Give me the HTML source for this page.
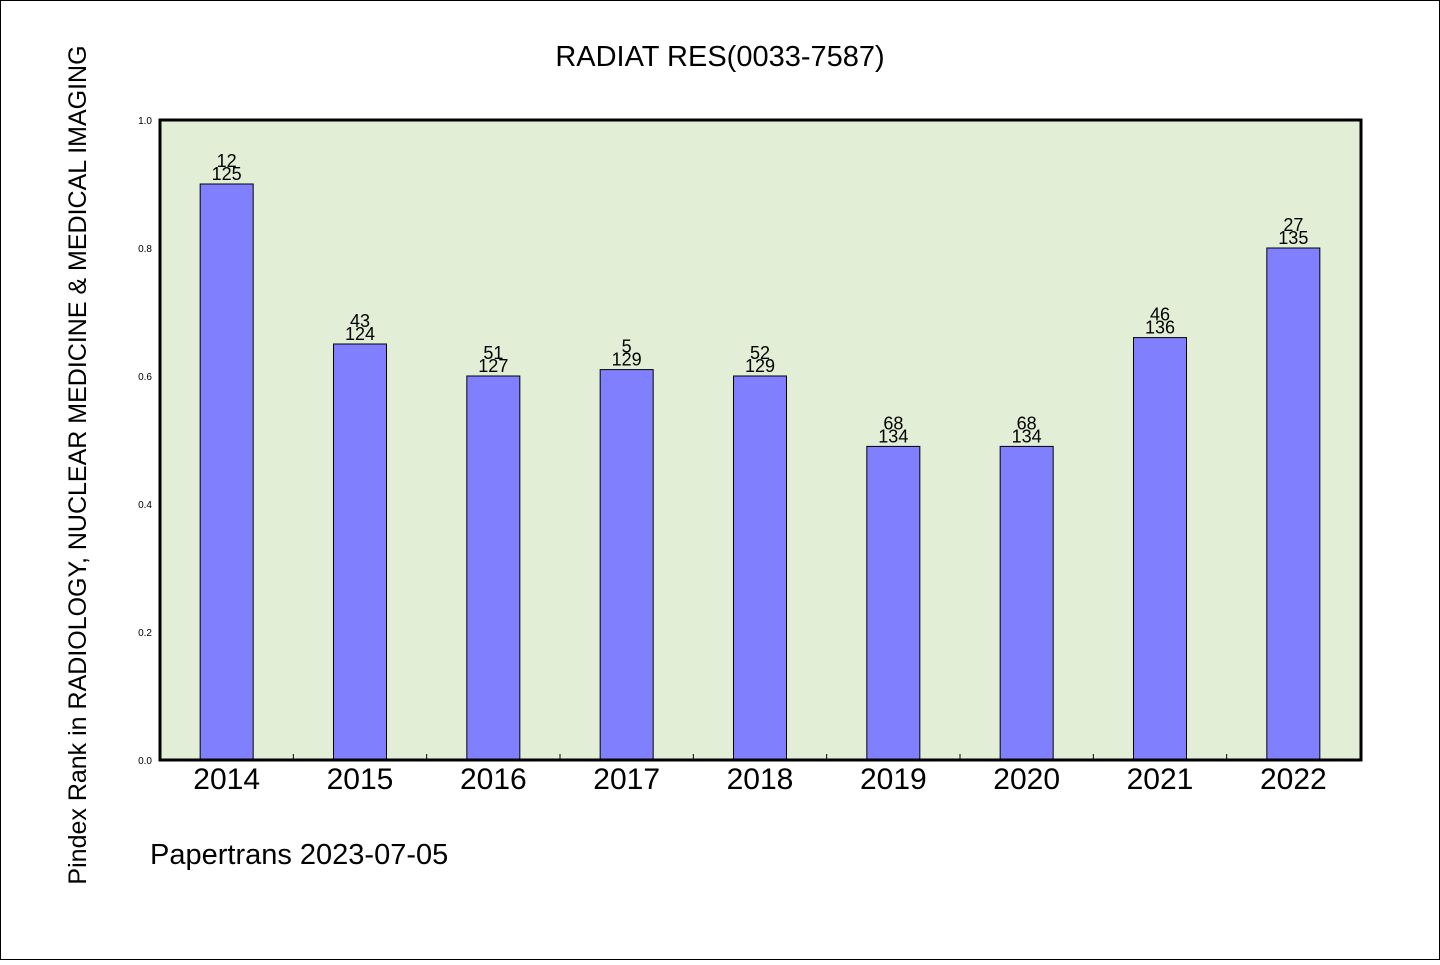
<!DOCTYPE html>
<html><head><meta charset="utf-8"><style>
body{margin:0;background:#fff;}
svg text{font-family:"WenQuanYi Zen Hei","Liberation Sans",sans-serif;fill:#000;}
</style></head><body>
<svg id="c" width="1440" height="960" xmlns="http://www.w3.org/2000/svg">
<rect x="0.5" y="0.5" width="1439" height="959" fill="#fff" stroke="#000"/>
<text x="720" y="66" font-size="29" text-anchor="middle">RADIAT RES(0033-7587)</text>
<text transform="translate(86,465) rotate(-90)" font-size="25" text-anchor="middle">Pindex Rank in RADIOLOGY, NUCLEAR MEDICINE &amp; MEDICAL IMAGING</text>
<text x="150" y="864" font-size="29">Papertrans 2023-07-05</text>
<rect x="160" y="120" width="1201" height="640" fill="#e2efd6"/>
<g id="g"></g>
<rect x="160" y="120" width="1201" height="640" fill="none" stroke="#000" stroke-width="3"/>
</svg>
<script>
const years=["2014","2015","2016","2017","2018","2019","2020","2021","2022"];
const values=[0.9,0.65,0.6,0.61,0.6,0.49,0.49,0.66,0.8];
const ranks=["12","43","51","5","52","68","68","46","27"];
const totals=["125","124","127","129","129","134","134","136","135"];
const yTicks=[0,0.2,0.4,0.6,0.8,1.0];
const NS="http://www.w3.org/2000/svg";
const g=document.getElementById('g');
const x0=160,pw=1200,y0=760,ph=640;
const step=pw/years.length;
function xs(i){return x0+step*(i+0.5);}
function ys(v){return y0-v*ph;}
function mk(t,a){const e=document.createElementNS(NS,t);for(const k in a)e.setAttribute(k,a[k]);g.appendChild(e);return e;}
yTicks.forEach(v=>{
 const t=mk('text',{x:152,y:ys(v)+4,'font-size':10,'text-anchor':'end'});
 t.textContent=v.toFixed(1);
 
 
});
for(let i=1;i<years.length;i++){
 const l=mk('line',{x1:x0+step*i,x2:x0+step*i,y1:y0,y2:y0-6,stroke:'#000','stroke-width':1});
 
 
}
years.forEach((yr,i)=>{
 const cx=xs(i),bw=53;
 const r=mk('rect',{x:cx-bw/2,y:ys(values[i]),width:bw,height:y0-ys(values[i]),fill:'#8080ff',stroke:'#000','stroke-width':1});
 
 
 const a=mk('text',{x:cx,y:ys(values[i])-17,'font-size':18,'text-anchor':'middle'});
 a.textContent=ranks[i];
 
 
 const b=mk('text',{x:cx,y:ys(values[i])-4,'font-size':18,'text-anchor':'middle'});
 b.textContent=totals[i];
 
 
 const t=mk('text',{x:cx,y:789,'font-size':30,'text-anchor':'middle'});
 t.textContent=yr;
 
 
});
</script>
</body></html>
